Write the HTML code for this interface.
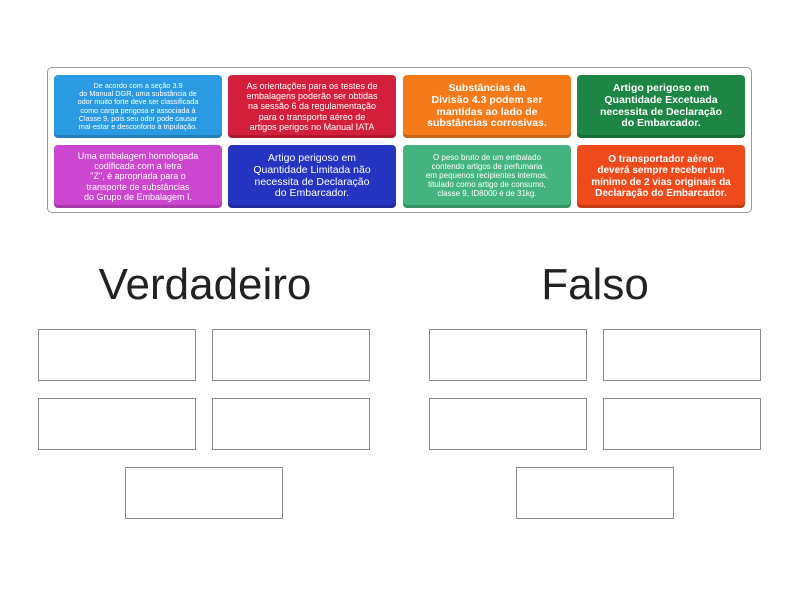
<!DOCTYPE html>
<html><head><meta charset="utf-8"><style>
body{margin:0;width:800px;height:600px;background:#fff;font-family:"Liberation Sans","DejaVu Sans",sans-serif;position:relative;overflow:hidden}
.wrap{position:absolute;left:47px;top:67px;width:705px;height:146px;border:1px solid #999;border-radius:5px;box-sizing:border-box}
.c{position:absolute;width:168px;height:63px;border-radius:4px;color:#fff;font-weight:bold;display:flex;align-items:center;justify-content:center;text-align:center;line-height:1.12;box-shadow:inset 0 -3px 0 rgba(0,0,0,.18)}
.b{position:absolute;width:158px;height:52px;border:1px solid #888;box-sizing:border-box}
.h{position:absolute;font-size:44px;color:#222;top:260px;width:300px;text-align:center}
</style></head><body>
<div class="wrap"></div>
<div class="c" style="left:54px;top:75px;background:#2a9be3;font-size:7.3px;font-weight:normal">De acordo com a seção 3.9<br>do Manual DGR, uma substância de<br>odor muito forte deve ser classificada<br>como carga perigosa e associada à<br>Classe 9, pois seu odor pode causar<br>mal-estar e desconforto à tripulação.</div>
<div class="c" style="left:228px;top:75px;background:#d41f3c;font-size:9px;font-weight:normal">As orientações para os testes de<br>embalagens poderão ser obtidas<br>na sessão 6 da regulamentação<br>para o transporte aéreo de<br>artigos perigos no Manual IATA</div>
<div class="c" style="left:403px;top:75px;background:#f47a1a;font-size:10.5px">Substâncias da<br>Divisão 4.3 podem ser<br>mantidas ao lado de<br>substâncias corrosivas.</div>
<div class="c" style="left:577px;top:75px;background:#1d8645;font-size:10.5px">Artigo perigoso em<br>Quantidade Excetuada<br>necessita de Declaração<br>do Embarcador.</div>
<div class="c" style="left:54px;top:145px;background:#cc46d0;font-size:9px;font-weight:normal">Uma embalagem homologada<br>codificada com a letra<br>"Z", é apropriada para o<br>transporte de substâncias<br>do Grupo de Embalagem I.</div>
<div class="c" style="left:228px;top:145px;background:#2535c2;font-size:10.5px;font-weight:normal">Artigo perigoso em<br>Quantidade Limitada não<br>necessita de Declaração<br>do Embarcador.</div>
<div class="c" style="left:403px;top:145px;background:#43b47f;font-size:8px;font-weight:normal">O peso bruto de um embalado<br>contendo artigos de perfumaria<br>em pequenos recipientes internos,<br>titulado como artigo de consumo,<br>classe 9, ID8000 é de 31kg.</div>
<div class="c" style="left:577px;top:145px;background:#ef4a1b;font-size:10px">O transportador aéreo<br>deverá sempre receber um<br>mínimo de 2 vias originais da<br>Declaração do Embarcador.</div>
<div class="h" style="left:55px">Verdadeiro</div>
<div class="h" style="left:445px">Falso</div>
<div class="b" style="left:38px;top:329px"></div><div class="b" style="left:212px;top:329px"></div>
<div class="b" style="left:38px;top:398px"></div><div class="b" style="left:212px;top:398px"></div>
<div class="b" style="left:125px;top:467px"></div>
<div class="b" style="left:429px;top:329px"></div><div class="b" style="left:603px;top:329px"></div>
<div class="b" style="left:429px;top:398px"></div><div class="b" style="left:603px;top:398px"></div>
<div class="b" style="left:516px;top:467px"></div>
</body></html>
